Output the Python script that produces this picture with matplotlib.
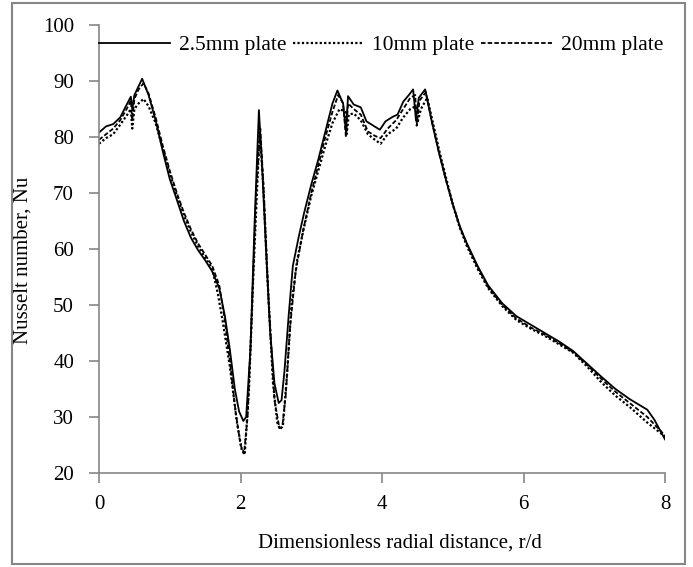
"""
Nusselt number vs dimensionless radial distance for three plate thicknesses.
"""

import matplotlib
matplotlib.use('Agg')
import matplotlib.pyplot as plt
from matplotlib.patches import Rectangle


### Data

# 2.5 mm plate
x_25 = [0, 0.1, 0.2, 0.3, 0.38, 0.45, 0.47, 0.5, 0.55, 0.61, 0.7, 0.8, 0.9,
        1.0, 1.1, 1.2, 1.3, 1.4, 1.5, 1.6, 1.7, 1.78, 1.85, 1.92, 1.98,
        2.04, 2.08, 2.14, 2.2, 2.26, 2.3, 2.36, 2.42, 2.48, 2.54, 2.58,
        2.62, 2.68, 2.74, 2.82, 2.9, 3.0, 3.1, 3.2, 3.3, 3.37, 3.45, 3.49,
        3.52, 3.6, 3.7, 3.78, 3.88, 3.97, 4.05, 4.15, 4.22, 4.3, 4.38, 4.44,
        4.48, 4.52, 4.61, 4.7, 4.8, 4.9, 5.0, 5.1, 5.2, 5.35, 5.5, 5.7, 5.9,
        6.1, 6.3, 6.5, 6.7, 6.9, 7.1, 7.3, 7.5, 7.75, 7.85, 8.0]
nu_25 = [80.8, 81.9, 82.3, 83.5, 85.5, 87.2, 85.0, 87.5, 88.8, 90.4, 87.5,
         83.0, 77.5, 72.5, 68.8, 65.0, 62.0, 59.8, 58.0, 56.0, 53.0, 48.0,
         42.0, 35.0, 31.0, 29.3, 30.0, 42.0, 65.0, 84.8, 76.0, 60.0, 45.0,
         36.0, 32.5, 33.0, 38.0, 48.0, 57.0, 62.0, 66.5, 71.5, 76.0, 81.0,
         86.0, 88.3, 86.0, 81.0, 87.3, 85.8, 85.3, 82.8, 82.0, 81.3, 82.8,
         83.6, 84.0, 86.3, 87.5, 88.5, 83.0, 87.0, 88.5, 83.0, 77.5, 72.5,
         68.0, 64.0, 61.0, 57.0, 53.5, 50.3, 48.0, 46.5, 45.0, 43.5, 41.8,
         39.5, 37.2, 35.0, 33.2, 31.3, 29.5, 26.0]

# 10 mm plate
x_10 = [0, 0.1, 0.2, 0.3, 0.4, 0.45, 0.47, 0.5, 0.56, 0.63, 0.7, 0.8, 0.9,
        1.0, 1.1, 1.2, 1.3, 1.4, 1.5, 1.6, 1.68, 1.75, 1.85, 1.95, 2.02,
        2.06, 2.12, 2.18, 2.27, 2.32, 2.38, 2.46, 2.52, 2.56, 2.6, 2.66,
        2.72, 2.8, 2.9, 3.0, 3.1, 3.2, 3.3, 3.4, 3.48, 3.5, 3.53, 3.6, 3.7,
        3.8, 3.9, 3.98, 4.08, 4.2, 4.3, 4.4, 4.48, 4.5, 4.55, 4.64, 4.72,
        4.82, 4.92, 5.0, 5.1, 5.2, 5.35, 5.5, 5.7, 5.9, 6.1, 6.3, 6.5, 6.7,
        6.9, 7.1, 7.3, 7.5, 7.75, 8.0]
nu_10 = [78.8, 79.8, 80.5, 82.2, 84.0, 85.0, 81.5, 85.0, 86.0, 86.8, 85.5,
         82.5, 78.0, 73.5, 69.5, 66.0, 63.0, 60.5, 58.5, 56.5, 52.0, 47.0,
         39.0, 29.0, 24.0, 23.3, 35.0, 55.0, 81.0, 72.0, 55.0, 36.0, 29.0,
         27.8, 28.5, 38.0, 50.0, 58.0, 64.0, 69.5, 74.0, 78.5, 82.5, 85.0,
         84.5, 80.5, 84.0, 84.2, 83.0, 80.5, 79.5, 78.8, 80.5, 81.5, 83.5,
         85.0, 85.5, 82.5, 85.0, 87.0, 82.5, 77.0, 72.0, 68.0, 63.8, 60.5,
         56.5, 53.0, 49.8, 47.3, 45.8, 44.5, 43.0, 41.5, 39.0, 36.2, 33.8,
         31.8, 29.0, 26.5]

# 20 mm plate
x_20 = [0, 0.1, 0.2, 0.3, 0.4, 0.45, 0.47, 0.5, 0.56, 0.63, 0.7, 0.8, 0.9,
        1.0, 1.1, 1.2, 1.3, 1.4, 1.5, 1.6, 1.7, 1.77, 1.85, 1.93, 2.0, 2.05,
        2.1, 2.16, 2.22, 2.28, 2.33, 2.4, 2.48, 2.55, 2.59, 2.64, 2.7, 2.78,
        2.88, 3.0, 3.1, 3.2, 3.3, 3.38, 3.45, 3.49, 3.52, 3.6, 3.7, 3.8, 3.9,
        3.98, 4.08, 4.2, 4.3, 4.4, 4.47, 4.49, 4.53, 4.62, 4.7, 4.8, 4.9,
        5.0, 5.1, 5.2, 5.35, 5.5, 5.7, 5.9, 6.1, 6.3, 6.5, 6.7, 6.9, 7.1,
        7.3, 7.5, 7.75, 8.0]
nu_20 = [79.5, 80.5, 81.5, 83.0, 85.2, 86.5, 83.0, 86.8, 88.5, 89.6, 87.8,
         83.5, 78.5, 74.0, 70.0, 66.5, 63.5, 61.0, 59.0, 57.0, 53.5, 48.0,
         40.0, 31.0, 25.0, 23.5, 30.0, 48.0, 70.0, 81.5, 70.0, 50.0, 33.0,
         28.0, 28.2, 34.0, 46.0, 56.0, 63.0, 70.0, 75.0, 80.0, 84.5, 87.5,
         86.0, 80.0, 86.0, 85.0, 84.0, 81.0, 80.2, 79.8, 81.5, 83.0, 85.0,
         87.0, 87.5, 82.0, 86.5, 88.0, 83.0, 77.5, 72.5, 68.0, 64.0, 60.8,
         56.8, 53.2, 50.0, 47.6, 46.0, 44.7, 43.2, 41.6, 39.3, 36.8, 34.5,
         32.5, 30.0, 26.7]

labels = ['2.5mm plate', '10mm plate', '20mm plate']
x_ticks = [0, 2, 4, 6, 8]
y_ticks = [20, 30, 40, 50, 60, 70, 80, 90, 100]


### Plot
plt.rcParams['font.family'] = ['Liberation Serif', 'DejaVu Serif']

fig = plt.figure(figsize=(6.93, 5.67), dpi=100)
ax = fig.add_axes([99 / 693, 1 - 473 / 567, 566 / 693, 448 / 567])

ax.plot(x_25, nu_25, label=labels[0], c='k', ls='-', lw=1.3)
ax.plot(x_10, nu_10, label=labels[1], c='k', ls=(0, (1, 1)), lw=1.6)
ax.plot(x_20, nu_20, label=labels[2], c='k', ls=(0, (2.5, 1.2)), lw=1.3)

ax.set_xlim(0, 8)
ax.set_ylim(20, 100)
ax.set_xticks(x_ticks)
ax.set_yticks(y_ticks)

grey = '#868686'
for side in ['top', 'right']:
    ax.spines[side].set_visible(False)
for side in ['left', 'bottom']:
    ax.spines[side].set_color(grey)
    ax.spines[side].set_linewidth(1.2)
ax.tick_params(axis='both', colors=grey, labelcolor='k', labelsize=15,
               length=7, width=1.2, direction='out')
ax.tick_params(axis='y', pad=11)
ax.tick_params(axis='x', pad=9)

ax.set_xlabel('Dimensionless radial distance, r/d', fontsize=15)
ax.xaxis.set_label_coords((400 - 99) / 566, -0.135)
ax.set_ylabel('Nusselt number, Nu', fontsize=15)
ax.yaxis.set_label_coords(-0.118, 0.475)

ax.legend(loc='center left', bbox_to_anchor=(0.0, 0.955), ncol=3,
          frameon=False, fontsize=15.5, handlelength=3.3, handletextpad=0.4,
          columnspacing=0.3, borderaxespad=0, borderpad=0)

# grey frame around the whole chart
fig.patches.append(Rectangle((12 / 693, 3 / 567), 673 / 693, 561 / 567,
                             transform=fig.transFigure, fill=False,
                             ec=grey, lw=1.5))

fig.savefig('out.png', dpi=100)
